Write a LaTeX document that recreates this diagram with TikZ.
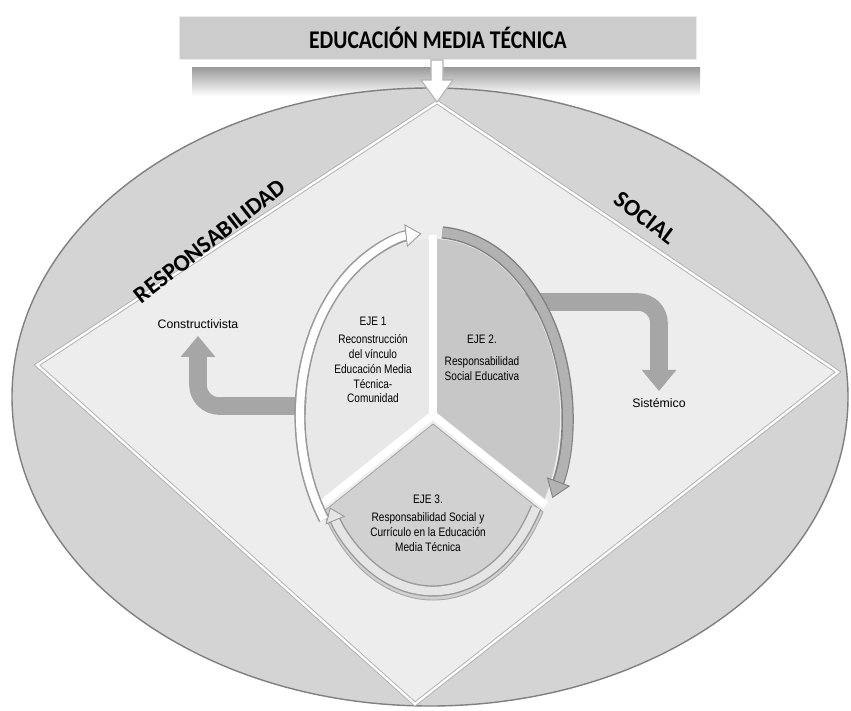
\documentclass[tikz,border=0pt]{standalone}
\usepackage{fontspec}
\setmainfont{Liberation Sans}
\newfontfamily\headfont[FakeStretch=0.85]{Carlito}
\newfontfamily\bandfont{Carlito}
\newfontfamily\narrowfont[FakeStretch=0.82]{Liberation Sans}
\usetikzlibrary{arrows.meta}
\usetikzlibrary{calc}

\begin{document}
\begin{tikzpicture}[
  x=0.02cm, y=0.02cm,
  font=\fontsize{7}{8.2}\selectfont,
  band/.style={fill=black!17, draw=black!50, line width=0.8pt},
  rhombus/.style={fill=black!7},
  banner/.style={fill=black!20, draw=black!8, line width=0.6pt, inner sep=0pt,
    font=\headfont\bfseries\fontsize{14.5}{16}\selectfont},
  bandtext/.style={font=\bandfont\bfseries\fontsize{13.5}{16}\selectfont},
  lbl/.style={align=center, inner sep=1pt},
  ejetext/.style={align=center, font=\narrowfont\fontsize{7}{8.4}\selectfont},
  bentarrow/.style={draw=black!35, line width=10pt, rounded corners=12pt,
    -{Triangle[width=19pt,length=12pt]}},
]
\useasboundingbox (0,0) rectangle (851,-710);

% Shadow under the title banner
\shade[top color=black!40, bottom color=white] (192,-67) rectangle (700,-96);

% Outer ellipse and the inner diamond
\draw[band] (430,-397) ellipse [x radius=418, y radius=309];
\coordinate (dtop) at (437,-102);
\coordinate (dright) at (838,-372);
\coordinate (dbot) at (415,-704);
\coordinate (dleft) at (37,-365);
\fill[rhombus] (dtop) -- (dright) -- (dbot) -- (dleft) -- cycle;
\draw[black!30, line width=2.4pt, line join=miter] (dtop) -- (dright) -- (dbot) -- (dleft) -- cycle;
\draw[white, line width=1.3pt, line join=miter] (dtop) -- (dright) -- (dbot) -- (dleft) -- cycle;

% Title banner and its arrow
\node[banner, minimum width=10.34cm, minimum height=0.86cm] (banner) at (438,-38) {EDUCACIÓN MEDIA TÉCNICA};
\draw[fill=white, draw=black!30, line width=0.6pt]
  (431,-60) -- (443,-60) -- (443,-80) -- (453,-80) -- (dtop) -- (421,-80) -- (431,-80) -- cycle;

% Words along the band
\node[bandtext, rotate=38] (resp) at (210,-241) {RESPONSABILIDAD};
\node[bandtext, rotate=-37] (soc) at (645,-218) {SOCIAL};

% Side labels and bent arrows
\node[lbl] (cons) at (198,-324) {Constructivista};
\node[lbl] (sis) at (659,-403) {Sistémico};
\coordinate (ejeone) at (320,-406);
\coordinate (ejetwo) at (520,-302);
\draw[bentarrow] (ejetwo) -| ([yshift=3pt]sis.north);
\draw[bentarrow] (ejeone) -| ([yshift=-3pt]cons.south);

% The three axes
\begin{scope}[shift={(433,-415)}]
  \fill[black!9] (0,0) -- (90:127 and 176) arc[start angle=90, end angle=210, x radius=127, y radius=176] -- cycle;
  \fill[black!22] (0,0) -- (-30:127 and 176) arc[start angle=-30, end angle=90, x radius=127, y radius=176] -- cycle;
  \begin{scope}[shift={(0,-9)}]
    \fill[black!18, draw=black!35, line width=0.5pt] (0,0) -- (210:127 and 176) arc[start angle=210, end angle=330, x radius=127, y radius=176] -- cycle;
    \draw[black!40, line width=6.4pt, shorten >=7pt] (-30:119 and 167) arc[start angle=-30, end angle=-150, x radius=119, y radius=167];
    \draw[black!10, line width=4.8pt, -{Triangle[width=12pt,length=8pt,fill=black!10,color=black!40,line width=0.5pt]}]
      (-30:119 and 167) arc[start angle=-30, end angle=-150, x radius=119, y radius=167];
  \end{scope}
  \foreach \a in {90,210,330}
    \draw[white, line width=4.5pt] (0,0) -- (\a:130 and 180);
  % ring arrows
  \draw[black!40, line width=6.4pt, shorten >=7pt] (215:133 and 182) arc[start angle=215, end angle=95, x radius=133, y radius=182];
  \draw[white, line width=4.6pt, -{Triangle[width=13pt,length=9pt,fill=white,color=black!40,line width=0.5pt]}]
    (215:133 and 182) arc[start angle=215, end angle=95, x radius=133, y radius=182];
  \draw[black!50, line width=7pt, shorten >=8pt] (86:134 and 183) arc[start angle=86, end angle=-27, x radius=134, y radius=183];
  \draw[black!30, line width=5.4pt, -{Triangle[width=14pt,length=10pt,fill=black!30,color=black!50,line width=0.5pt]}]
    (86:134 and 183) arc[start angle=86, end angle=-27, x radius=134, y radius=183];
\end{scope}

\node[ejetext] (eje1) at (373,-360) {EJE 1\\[2pt]Reconstrucción\\del vínculo\\Educación Media\\Técnica-\\Comunidad};
\node[ejetext] (eje2) at (482,-358) {EJE 2.\\[4pt]Responsabilidad\\Social Educativa};
\node[ejetext] (eje3) at (428,-523) {EJE 3.\\[2pt]Responsabilidad Social y\\Currículo en la Educación\\Media Técnica};

\end{tikzpicture}
\end{document}
